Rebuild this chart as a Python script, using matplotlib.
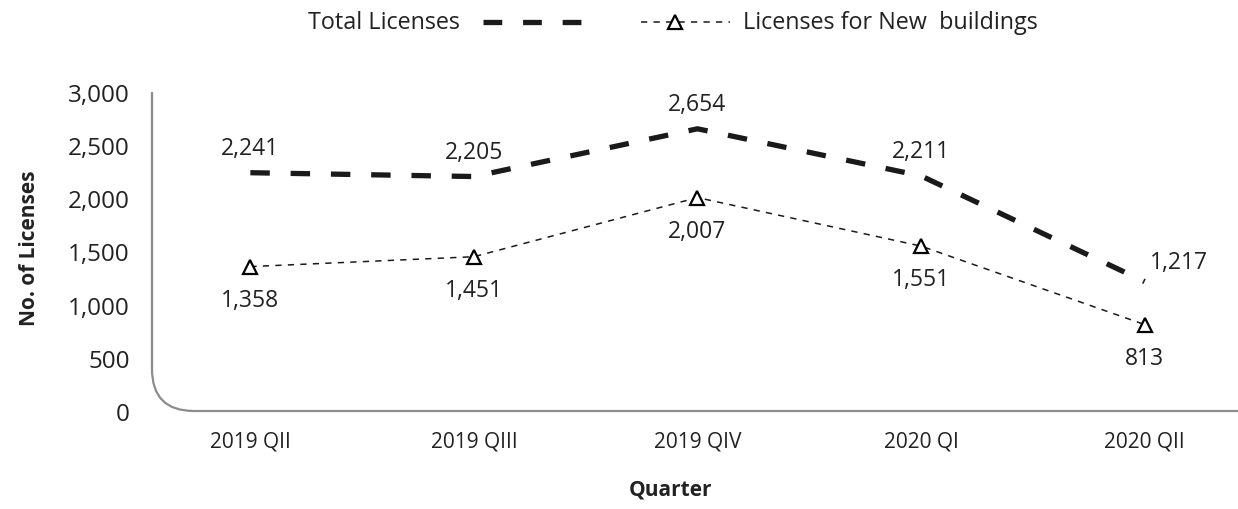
import matplotlib
matplotlib.use("Agg")
import matplotlib.pyplot as plt
from matplotlib.path import Path
from matplotlib.patches import PathPatch
from matplotlib.lines import Line2D

plt.rcParams['font.family'] = ['Open Sans', 'DejaVu Sans']
plt.rcParams['lines.scale_dashes'] = False

quarters = ['2019 QII', '2019 QIII', '2019 QIV', '2020 QI', '2020 QII']
total_licenses = [2241, 2205, 2654, 2211, 1217]
new_buildings = [1358, 1451, 2007, 1551, 813]

fig = plt.figure(figsize=(12.38, 5.10), dpi=100)
ax = fig.add_axes([152 / 1238, 1 - 412 / 510, (1234 - 152) / 1238, (412 - 93) / 510])

x = range(len(quarters))
ax.plot(x, total_licenses, color='#1a1a1a', lw=3.8, dashes=(14, 15),
        dash_capstyle='butt', solid_capstyle='butt', zorder=3)
ax.plot(x, new_buildings, color='#1a1a1a', lw=1.1, dashes=(4.5, 4.5),
        marker='^', markersize=10, markerfacecolor='white',
        markeredgecolor='black', markeredgewidth=1.6, zorder=4)

# data labels
for i, v in enumerate(total_licenses):
    if i == len(total_licenses) - 1:
        ax.annotate(f'{v:,}', (i, v), xytext=(25, 14), textcoords='offset points',
                    ha='center', va='center', fontsize=16.5, color='#222222')
    else:
        ax.annotate(f'{v:,}', (i, v), xytext=(0, 18), textcoords='offset points',
                    ha='center', va='center', fontsize=16.5, color='#222222')
for i, v in enumerate(new_buildings):
    ax.annotate(f'{v:,}', (i, v), xytext=(0, -24), textcoords='offset points',
                ha='center', va='center', fontsize=16.5, color='#222222')

ax.set_xlim(-0.44, 4.4)
ax.set_ylim(0, 3000)
ax.set_yticks(range(0, 3001, 500))
ax.set_yticklabels([f'{t:,}' for t in range(0, 3001, 500)])
ax.set_xticks(list(x))
ax.set_xticklabels(quarters)
ax.tick_params(axis='y', length=0, pad=16, labelsize=17.5, labelcolor='#222222')
ax.tick_params(axis='x', length=0, pad=14, labelsize=15, labelcolor='#222222')
for s in ax.spines.values():
    s.set_visible(False)

# rounded corner axis line
x0, y0 = 152 / 1238, 1 - 412 / 510
rx, ry = 42 / 1238, 42 / 510
verts = [(x0, 1 - 93 / 510), (x0, y0 + ry), (x0, y0), (x0 + rx, y0), (1.0, y0)]
codes = [Path.MOVETO, Path.LINETO, Path.CURVE3, Path.CURVE3, Path.LINETO]
fig.patches.append(PathPatch(Path(verts, codes), transform=fig.transFigure,
                             fill=False, edgecolor='#8c8c8c', lw=1.6))

fig.text(30 / 1238, 1 - 248 / 510, 'No. of Licenses', rotation=90, ha='center',
         va='center', fontsize=15, fontweight='bold', color='#222222')
fig.text(670 / 1238, 1 - 490 / 510, 'Quarter', ha='center', va='center',
         fontsize=15, fontweight='bold', color='#222222')

# legend drawn by hand
ly = 1 - 23 / 510
fig.text(460 / 1238, ly, 'Total Licenses', ha='right', va='center',
         fontsize=16.8, color='#222222')
fig.lines.append(Line2D([483 / 1238, 586 / 1238], [ly, ly], transform=fig.transFigure,
                        color='#1a1a1a', lw=3.8, dashes=(13.5, 15), dash_capstyle='butt'))
fig.lines.append(Line2D([641 / 1238, 730 / 1238], [ly, ly], transform=fig.transFigure,
                        color='#1a1a1a', lw=1.1, dashes=(4.5, 4.5)))
fig.lines.append(Line2D([675 / 1238], [ly], transform=fig.transFigure, marker='^',
                        markersize=10, markerfacecolor='white', markeredgecolor='black',
                        markeredgewidth=1.6, linestyle='none'))
fig.text(743 / 1238, ly, 'Licenses for New  buildings', ha='left', va='center',
         fontsize=16.8, color='#222222')

fig.savefig('out.png', dpi=100)
